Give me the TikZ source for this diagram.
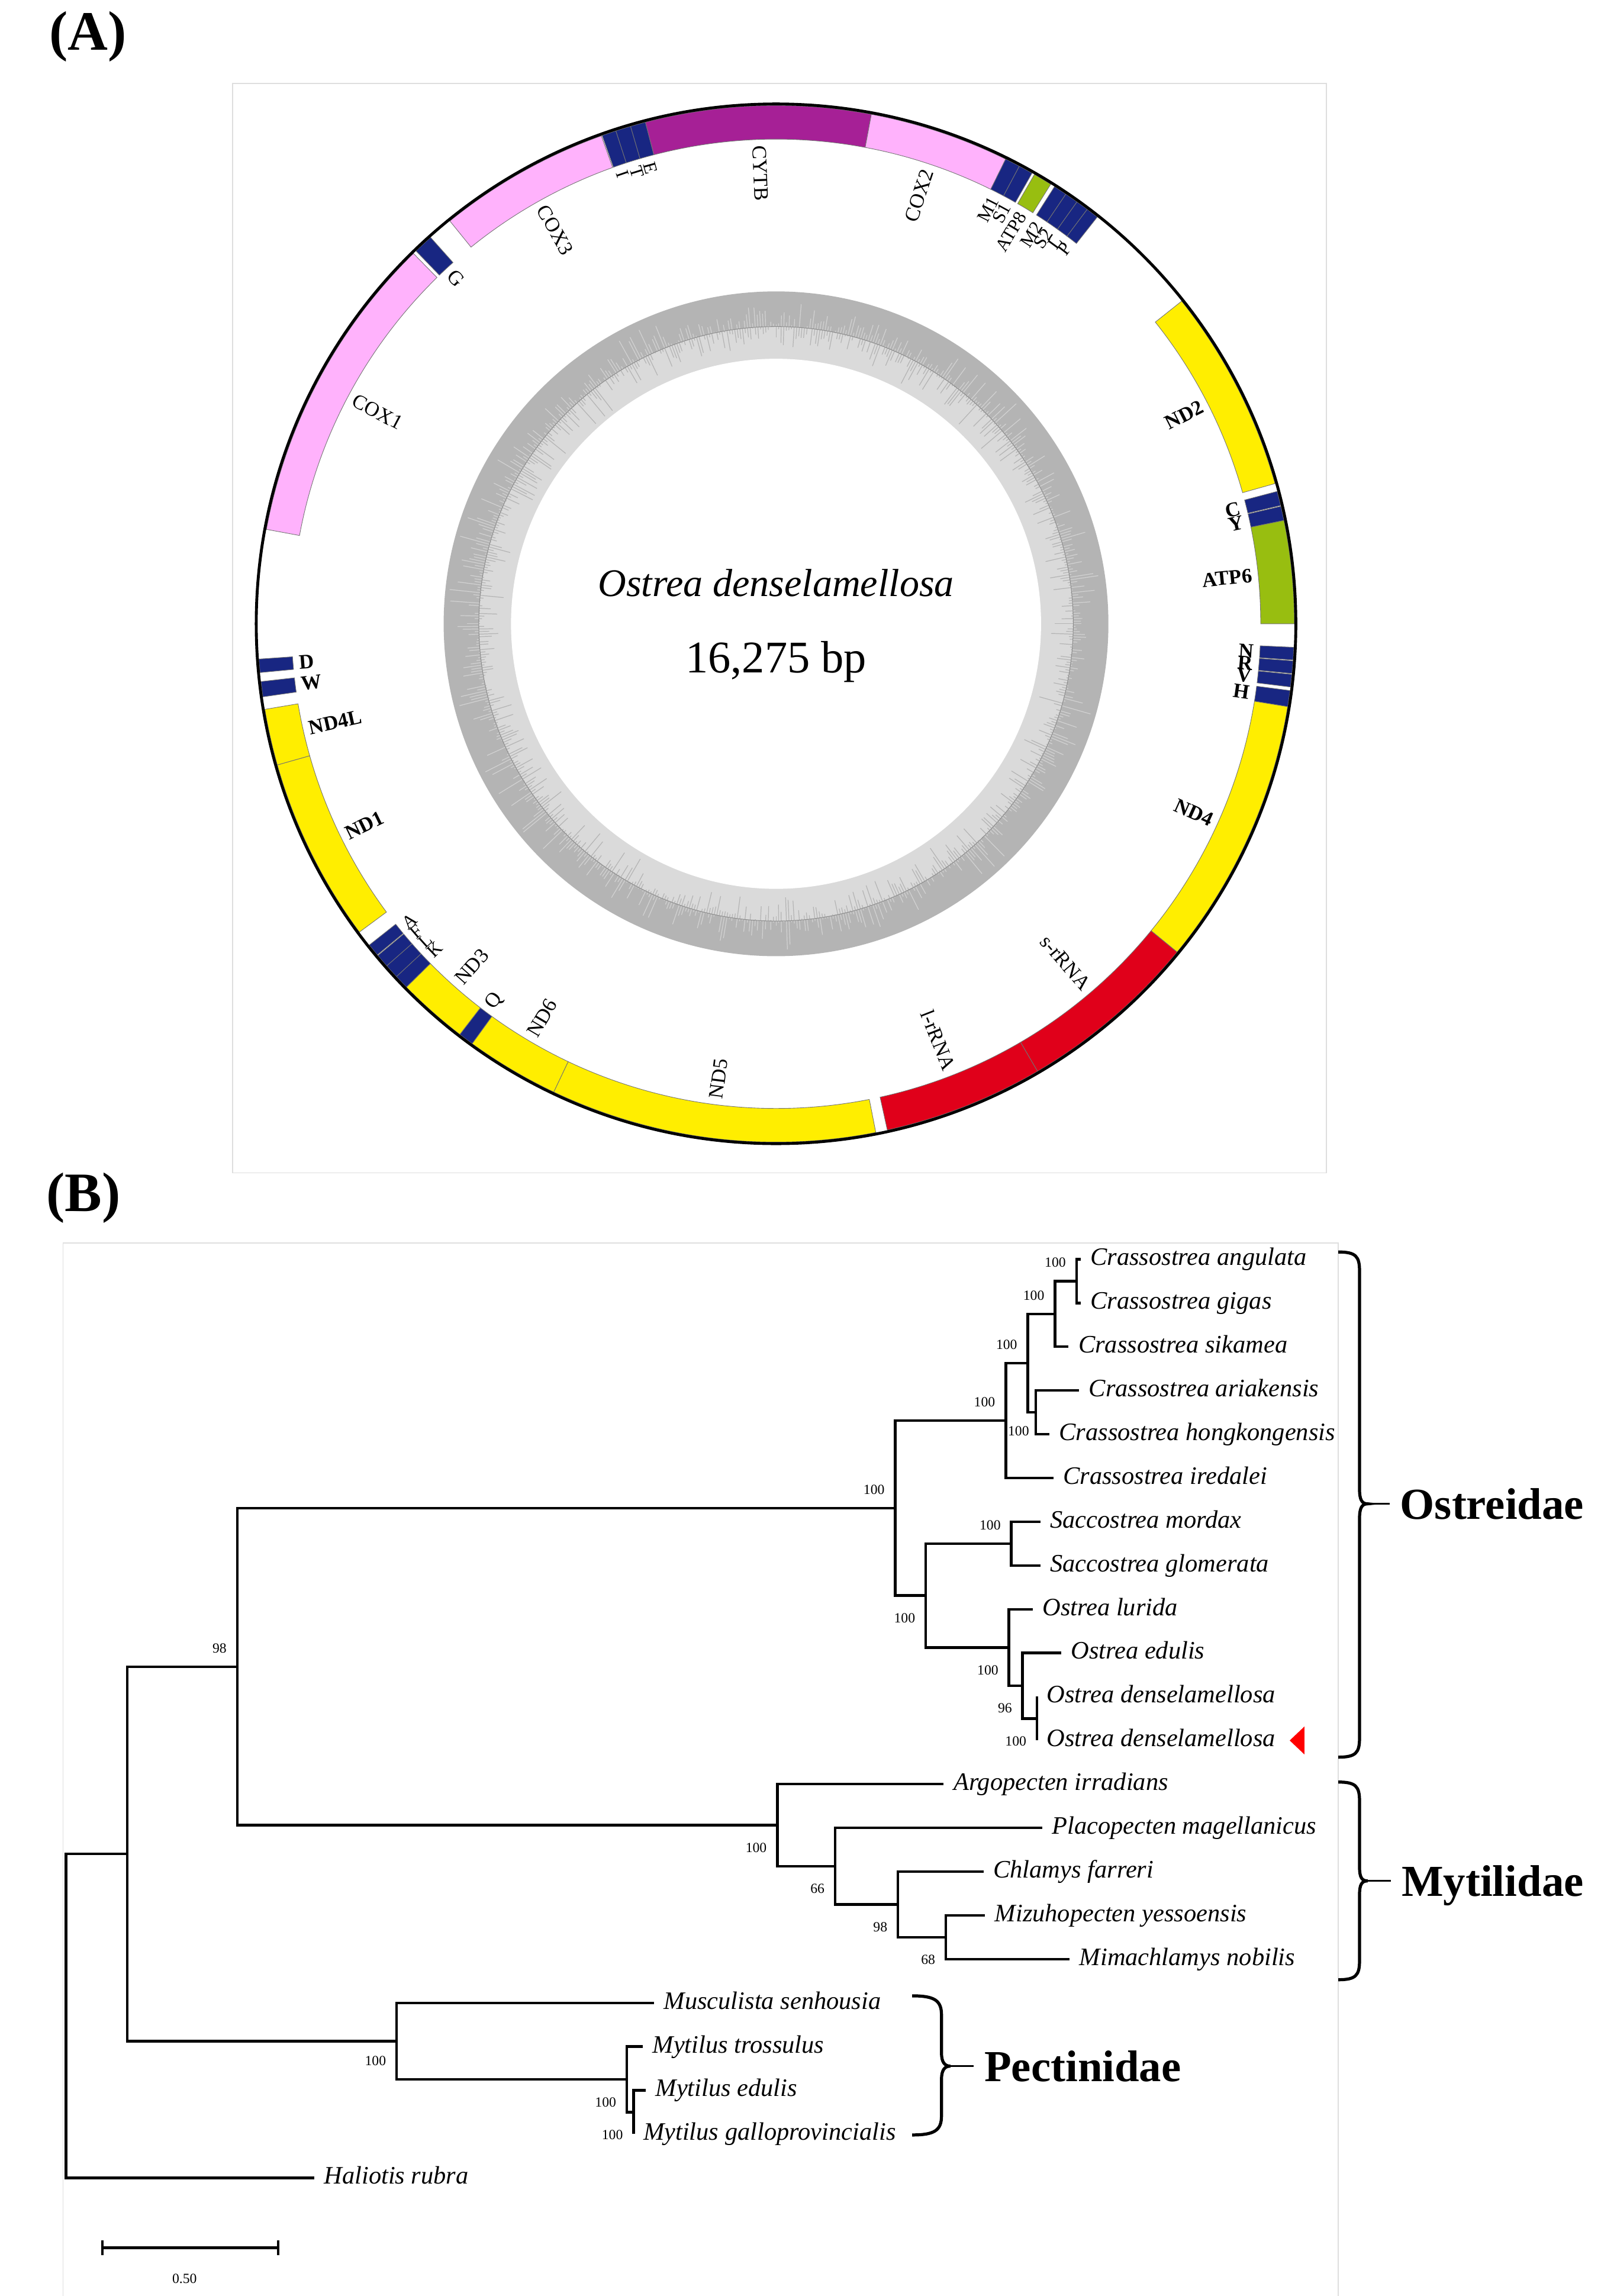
\documentclass[tikz,border=0pt]{standalone}
\usepackage{fontspec}
\setmainfont{Liberation Serif}
\usetikzlibrary{
    calc,
    positioning
}

\definecolor{coxpink}{RGB}{255,178,252}
\definecolor{cytbpurple}{RGB}{166,32,150}
\definecolor{trnablue}{RGB}{24,38,130}
\definecolor{atpgreen}{RGB}{152,190,16}
\definecolor{ndyellow}{RGB}{255,238,0}
\definecolor{rrnared}{RGB}{224,0,26}
\definecolor{framegray}{RGB}{222,222,222}
\definecolor{gcdark}{RGB}{180,180,180}
\definecolor{gclight}{RGB}{218,218,218}

\tikzset{
    genebox/.style={draw=black!55, line width=0.25pt},
    genelab/.style={inner sep=0pt, font=\fontsize{10}{12}\selectfont},
    genelabb/.style={inner sep=0pt, font=\fontsize{10}{12}\selectfont\bfseries},
    trnalab/.style={inner sep=0pt, font=\fontsize{9}{11}\selectfont},
    branch/.style={line width=1.3pt},
    leaf/.style={anchor=west, inner xsep=4.6pt, inner ysep=0pt, text height=8.5pt, text depth=2.5pt,
        font=\fontsize{12.2}{14}\selectfont\itshape},
    boot/.style={inner sep=0pt, font=\fontsize{6.8}{8}\selectfont},
    family/.style={anchor=west, inner xsep=5pt, inner ysep=0pt, text depth=0pt,
        font=\fontsize{21.5}{24}\selectfont\bfseries},
    fambrace/.style={line width=1.5pt},
    famline/.style={line width=0.9pt},
    panel/.style={inner sep=0pt, font=\fontsize{27}{30}\selectfont\bfseries},
    frame/.style={draw=framegray, line width=0.5pt}
}

\begin{document}
\begin{tikzpicture}[x=0.025cm, y=-0.025cm]
    \useasboundingbox (0,0) rectangle (1104,1568);
    \fill[white] (0,0) rectangle (1104,1568);

    % panel A: mitogenome map
    \node[panel] (pa) at (60,25) {(A)};
    \draw[frame] (159,57) rectangle (906,801);

    \begin{scope}[shift={(530,426)}]
        % GC ring
        \fill[gcdark] (0,0) circle[radius=227];
        \fill[gclight] (0,0) circle[radius=203];
        \fill[white] (0,0) circle[radius=181];
        \pgfmathsetseed{11}
        \foreach \k in {0,...,719} {
            \pgfmathsetmacro\ang{\k/2}
            \pgfmathsetmacro\din{203-20*rnd*rnd}
            \pgfmathsetmacro\dout{203+22*rnd*rnd}
            \draw[gcdark, line width=0.35pt] (\ang:203) -- (\ang:\din);
            \draw[gclight!80!gcdark, line width=0.35pt] (\ang:203) -- (\ang:\dout);
        }
        \draw[black!45, line width=0.3pt] (0,0) circle[radius=203];

        \node[font=\fontsize{19}{22}\selectfont\itshape] (spname) at (0,-28) {Ostrea denselamellosa};
        \node[font=\fontsize{22}{26}\selectfont] (gsize) at (0,26) {16,275 bp};

        % genes
        \foreach \a/\b/\col in {
            280.5/315.6/coxpink, 316.0/318.2/trnablue, 321.0/340.3/coxpink,
            340.4/342.0/trnablue, 342.0/343.7/trnablue, 343.7/345.4/trnablue,
            345.4/370.6/cytbpurple, 370.6/386.3/coxpink,
            26.3/28.0/trnablue, 28.0/29.6/trnablue, 29.9/32.0/atpgreen,
            32.5/34.0/trnablue, 34.0/35.5/trnablue, 35.5/36.9/trnablue, 36.9/38.3/trnablue,
            51.5/74.3/ndyellow, 75.2/76.8/trnablue, 76.9/78.5/trnablue, 78.5/90.0/atpgreen,
            92.6/94.0/trnablue, 94.1/95.5/trnablue, 95.6/97.0/trnablue, 97.4/99.2/trnablue,
            99.2/129.3/ndyellow, 129.3/149.7/rrnared, 149.7/167.6/rrnared,
            168.9/205.4/ndyellow, 205.4/215.9/ndyellow, 215.9/217.6/trnablue,
            217.6/225.5/ndyellow, 225.5/227.1/trnablue, 227.1/228.7/trnablue,
            228.7/230.2/trnablue, 230.3/231.7/trnablue,
            233.5/254.2/ndyellow, 254.2/260.5/ndyellow,
            261.9/263.6/trnablue, 264.6/266.1/trnablue}
            \draw[genebox, fill=\col] ({\a-90}:354) arc[start angle={\a-90}, end angle={\b-90}, radius=354]
                -- ({\b-90}:331) arc[start angle={\b-90}, end angle={\a-90}, radius=331] -- cycle;
        \draw[line width=1.4pt] (0,0) circle[radius=355];

        % gene names, right half read outwards, left half read inwards
        \foreach \t/\txt/\st [count=\j] in {
            18.5/COX2/genelab, 27.1/M1/trnalab, 28.8/S1/trnalab, 30.95/ATP8/trnalab,
            33.25/M2/trnalab, 34.75/S2/trnalab, 36.2/L/trnalab, 37.6/P/trnalab,
            62.9/ND2/genelabb, 76.0/C/genelabb, 77.7/Y/genelabb, 84.2/ATP6/genelabb,
            93.3/N/genelabb, 94.8/R/genelabb, 96.3/V/genelabb, 98.3/H/genelabb,
            114.3/ND4/genelabb, 139.5/s-rRNA/genelab, 158.7/l-rRNA/genelab}
            \node[\st, anchor=east, rotate={90-\t}] (rl\j) at ({\t-90}:327) {\txt};
        \foreach \t/\txt/\st [count=\j] in {
            187.2/ND5/genelab, 210.7/ND6/genelab, 216.75/Q/genelab, 221.6/ND3/genelab,
            226.3/K/trnalab, 227.9/L/trnalab, 229.45/F/trnalab, 230.95/A/trnalab,
            243.9/ND1/genelabb, 257.4/ND4L/genelabb, 262.75/W/genelabb, 265.35/D/genelabb,
            298/COX1/genelab, 317.2/G/genelab, 330.7/COX3/genelab,
            341.2/I/trnalab, 342.9/T/trnalab, 344.6/E/trnalab, 358/CYTB/genelab}
            \node[\st, anchor=west, rotate={270-\t}] (ll\j) at ({\t-90}:327) {\txt};
    \end{scope}

    % panel B: tree
    \node[panel] (pb) at (57,818) {(B)};
    \draw[frame] (43,1580) -- (43,849) -- (914,849) -- (914,1580);

    \node[leaf] (ca) at (738,860.0) {Crassostrea angulata};
    \node[leaf] (cg) at (738,889.9) {Crassostrea gigas};
    \node[leaf] (cs) at (729.8,919.7) {Crassostrea sikamea};
    \node[leaf] (cr) at (736.9,949.6) {Crassostrea ariakensis};
    \node[leaf] (ch) at (716.6,979.5) {Crassostrea hongkongensis};
    \node[leaf] (ci) at (719.4,1009.4) {Crassostrea iredalei};
    \node[leaf] (sm) at (710.5,1039.2) {Saccostrea mordax};
    \node[leaf] (sg) at (710.5,1069.1) {Saccostrea glomerata};
    \node[leaf] (ol) at (705.3,1099.0) {Ostrea lurida};
    \node[leaf] (oe) at (724.7,1128.8) {Ostrea edulis};
    \node[leaf] (oda) at (708.2,1158.7) {Ostrea denselamellosa};
    \node[leaf] (odb) at (708.2,1188.6) {Ostrea denselamellosa};
    \node[leaf] (ai) at (644.5,1218.4) {Argopecten irradians};
    \node[leaf] (pm) at (711.8,1248.3) {Placopecten magellanicus};
    \node[leaf] (cf) at (671.7,1278.2) {Chlamys farreri};
    \node[leaf] (my) at (672.7,1308.0) {Mizuhopecten yessoensis};
    \node[leaf] (mn) at (730.5,1337.9) {Mimachlamys nobilis};
    \node[leaf] (ms) at (446.7,1367.8) {Musculista senhousia};
    \node[leaf] (mt) at (439,1397.7) {Mytilus trossulus};
    \node[leaf] (me) at (441,1427.5) {Mytilus edulis};
    \node[leaf] (mg) at (432.7,1457.4) {Mytilus galloprovincialis};
    \node[leaf] (hr) at (214.6,1487.3) {Haliotis rubra};

    \coordinate (n4) at (735.2,874.9);
    \coordinate (n3) at (720.5,897.3);
    \coordinate (n5) at (707.3,964.5);
    \coordinate (n2) at (702,930.9);
    \coordinate (n1) at (686.9,970.2);
    \coordinate (n7) at (690.7,1054.2);
    \coordinate (n10) at (708.2,1173.6);
    \coordinate (n9) at (698.4,1151.2);
    \coordinate (n8) at (689.1,1125.1);
    \coordinate (n6) at (632.3,1089.6);
    \coordinate (n0) at (611.4,1029.9);
    \coordinate (s4) at (646,1323);
    \coordinate (s3) at (613.3,1300.6);
    \coordinate (s2) at (570.4,1274.5);
    \coordinate (s1) at (530.9,1246.4);
    \coordinate (nb) at (162,1138.2);
    \coordinate (p3) at (432.7,1442.5);
    \coordinate (p2) at (428.1,1420.1);
    \coordinate (p1) at (270.9,1394);
    \coordinate (na) at (87,1266.1);
    \coordinate (nr) at (45,1376.7);

    \draw[branch] (ca.west) -| (n4) |- (cg.west);
    \draw[branch] (n4) -| (n3) |- (cs.west);
    \draw[branch] (cr.west) -| (n5) |- (ch.west);
    \draw[branch] (n3) -| (n2) |- (n5);
    \draw[branch] (n2) -| (n1) |- (ci.west);
    \draw[branch] (sm.west) -| (n7) |- (sg.west);
    \draw[branch] (oda.west) -| (n10) |- (odb.west);
    \draw[branch] (oe.west) -| (n9) |- (n10);
    \draw[branch] (ol.west) -| (n8) |- (n9);
    \draw[branch] (n7) -| (n6) |- (n8);
    \draw[branch] (n1) -| (n0) |- (n6);
    \draw[branch] (my.west) -| (s4) |- (mn.west);
    \draw[branch] (cf.west) -| (s3) |- (s4);
    \draw[branch] (pm.west) -| (s2) |- (s3);
    \draw[branch] (ai.west) -| (s1) |- (s2);
    \draw[branch] (n0) -| (nb) |- (s1);
    \draw[branch] (me.west) -| (p3) |- (mg.west);
    \draw[branch] (mt.west) -| (p2) |- (p3);
    \draw[branch] (ms.west) -| (p1) |- (p2);
    \draw[branch] (nb) -| (na) |- (p1);
    \draw[branch] (na) -| (nr) |- (hr.west);

    % bootstrap values
    \node[boot, above left=6.5pt and 5pt of n4] (bn4) {100};
    \node[boot, above left=6.5pt and 5pt of n3] (bn3) {100};
    \node[boot, above left=6.5pt and 5pt of n2] (bn2) {100};
    \node[boot, above left=6.5pt and 5pt of n1] (bn1) {100};
    \node[boot, below left=6.5pt and 3pt of n5] (bn5) {100};
    \node[boot, above left=6.5pt and 5pt of n0] (bn0) {100};
    \node[boot, above left=6.5pt and 5pt of n7] (bn7) {100};
    \node[boot, below left=8.5pt and 5pt of n6] (bn6) {100};
    \node[boot, below left=8.5pt and 5pt of n8] (bn8) {100};
    \node[boot, below left=8.5pt and 5pt of n9] (bn9) {96};
    \node[boot, below left=8.5pt and 5pt of n10] (bn10) {100};
    \node[boot, above left=6.5pt and 5pt of nb] (bnb) {98};
    \node[boot, below left=8.5pt and 5pt of s1] (bs1) {100};
    \node[boot, below left=8.5pt and 5pt of s2] (bs2) {66};
    \node[boot, below left=8.5pt and 5pt of s3] (bs3) {98};
    \node[boot, below left=8.5pt and 5pt of s4] (bs4) {68};
    \node[boot, below left=7pt and 5pt of p1] (bp1) {100};
    \node[boot, below left=8.5pt and 5pt of p2] (bp2) {100};
    \node[boot, below left=8.5pt and 5pt of p3] (bp3) {100};

    % sample of this study
    \fill[red] ($(odb.east)+(3,0)$) -- ++(10,-9.5) -- ++(0,19) -- cycle;

    % families
    \draw[fambrace] (914,855) .. controls (926,855) and (928.5,858) .. (928.5,868) -- (928.5,1017)
        .. controls (928.5,1024) and (930,1027) .. (934,1027) .. controls (930,1027) and (928.5,1030) .. (928.5,1037)
        -- (928.5,1187) .. controls (928.5,1197) and (926,1200) .. (914,1200);
    \coordinate (ostip) at (934,1027);
    \node[family] (ostreidae) at (949,1027) {Ostreidae};
    \draw[famline] (ostip) -- (ostreidae.west);

    \draw[fambrace] (914,1217) .. controls (926,1217) and (928.5,1220) .. (928.5,1230) -- (928.5,1275)
        .. controls (928.5,1282) and (930,1284.5) .. (934,1284.5) .. controls (930,1284.5) and (928.5,1287) .. (928.5,1294)
        -- (928.5,1339) .. controls (928.5,1349) and (926,1352) .. (914,1352);
    \coordinate (mytip) at (934,1284.5);
    \node[family] (mytilidae) at (950,1284.5) {Mytilidae};
    \draw[famline] (mytip) -- (mytilidae.west);

    \draw[fambrace] (623,1363) .. controls (638,1363) and (643,1366) .. (643,1376) -- (643,1402)
        .. controls (643,1408) and (645,1411) .. (649,1411) .. controls (645,1411) and (643,1414) .. (643,1420)
        -- (643,1445) .. controls (643,1455) and (638,1458) .. (623,1458);
    \coordinate (petip) at (649,1411);
    \node[family] (pectinidae) at (665,1411) {Pectinidae};
    \draw[famline] (petip) -- (pectinidae.west);

    % scale bar
    \coordinate (sbl) at (70,1535);
    \coordinate (sbr) at (190,1535);
    \draw[branch] (sbl) -- (sbr);
    \draw[branch] ($(sbl)+(0,-5)$) -- ($(sbl)+(0,5)$);
    \draw[branch] ($(sbr)+(0,-5)$) -- ($(sbr)+(0,5)$);
    \node[boot] (sblab) at (126,1556) {0.50};
\end{tikzpicture}
\end{document}
